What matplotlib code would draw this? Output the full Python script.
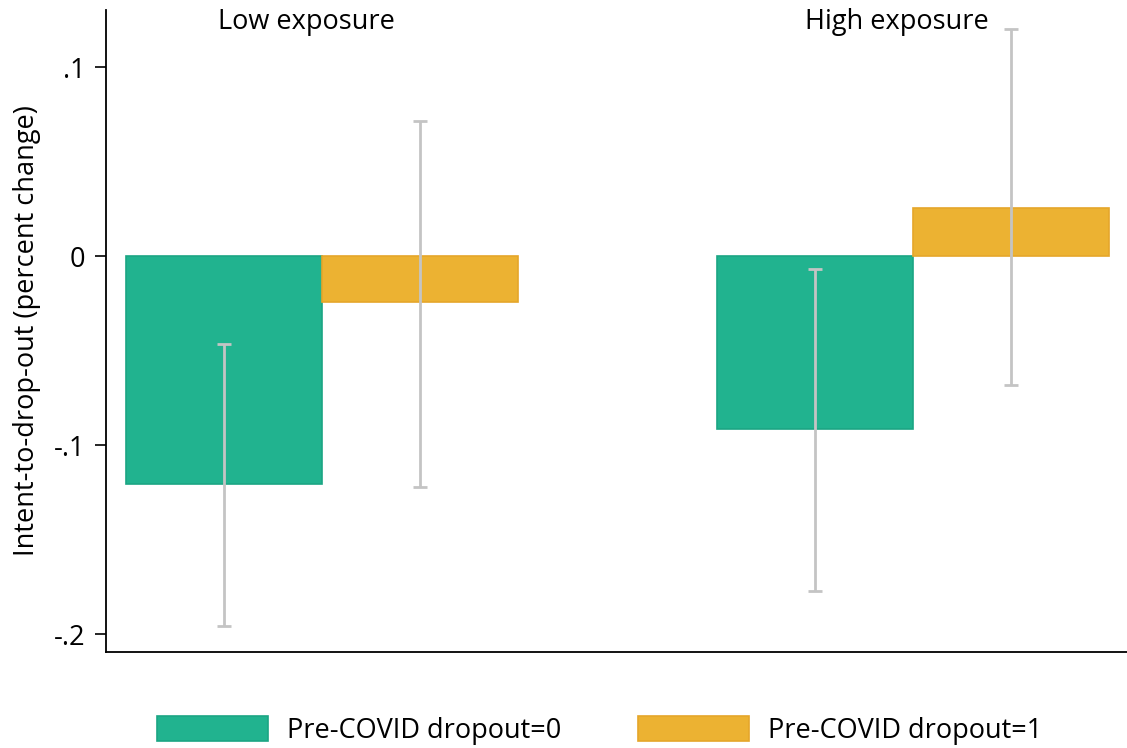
import matplotlib
matplotlib.use("Agg")
import matplotlib.pyplot as plt
from matplotlib.patches import Patch

plt.rcParams['font.family'] = ['Open Sans', 'DejaVu Sans']

groups = ["Low exposure", "High exposure"]
series_names = ["Pre-COVID dropout=0", "Pre-COVID dropout=1"]
values_0 = [-0.1206, -0.0915]
values_1 = [-0.0243, 0.0254]
ci_low_0 = [-0.1958, -0.1772]
ci_high_0 = [-0.0466, -0.0069]
ci_low_1 = [-0.1222, -0.0683]
ci_high_1 = [0.0714, 0.1201]
yticks = [-0.2, -0.1, 0.0, 0.1]
ytick_labels = ["-.2", "-.1", "0", ".1"]

colors = ["#21B38F", "#ECB232"]
edges = ["#1BA584", "#E5A62A"]
err_color = "#C4C4C4"
FS = 19.5

fig = plt.figure(figsize=(11.27, 7.48), dpi=100)
ax = fig.add_axes([106/1127, 1-652/748, 1-106/1127, (652-10)/748])

w = 0.3316
x = list(range(len(groups)))
for i, (vals, lo, hi) in enumerate([(values_0, ci_low_0, ci_high_0),
                                     (values_1, ci_low_1, ci_high_1)]):
    pos = [xi + (i - 0.5) * w for xi in x]
    ax.bar(pos, vals, width=w, color=colors[i], edgecolor=edges[i],
           linewidth=1.2, zorder=2)
    mid = [(a + b) / 2 for a, b in zip(lo, hi)]
    half = [(b - a) / 2 for a, b in zip(lo, hi)]
    ax.errorbar(pos, mid, yerr=half, fmt='none', ecolor=err_color,
                elinewidth=2, capsize=5, capthick=2, zorder=3)

ax.set_xlim(-0.3655, 1.362)
ax.set_ylim(-0.2095, 0.1302)
ax.set_yticks(yticks)
ax.set_yticklabels(ytick_labels)
ax.set_xticks([])
ax.tick_params(axis='y', length=8, width=1.2, labelsize=FS, pad=7)
ax.set_ylabel("Intent-to-drop-out (percent change)", fontsize=FS, labelpad=9)
for s in ["top", "right"]:
    ax.spines[s].set_visible(False)
for s in ["left", "bottom"]:
    ax.spines[s].set_linewidth(1.3)

for xi, g in zip(x, groups):
    ax.text(xi - 0.027, 0.1238, g, ha='center', va='center', fontsize=FS)

handles = [Patch(facecolor=colors[i], edgecolor=edges[i], linewidth=1.2,
                 label=series_names[i]) for i in range(2)]
fig.legend(handles=handles, loc='center', bbox_to_anchor=(0.532, 0.0235),
           ncol=2, frameon=False, fontsize=FS, handlelength=4.1,
           handleheight=1.07, handletextpad=0.7, columnspacing=2.85)

fig.savefig("out.png", dpi=100)
